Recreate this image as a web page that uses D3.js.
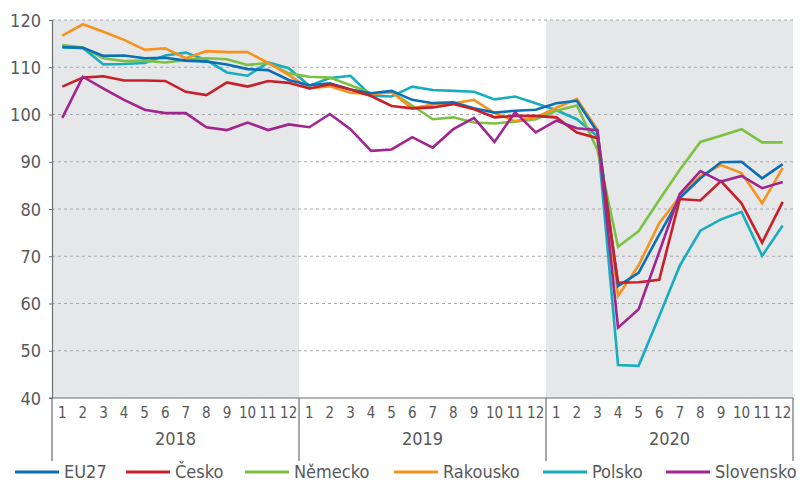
<!DOCTYPE html>
<html>
<head>
<meta charset="utf-8">
<script src="https://cdn.jsdelivr.net/npm/d3@7"></script>
<style>
  body { margin: 0; background: #fff; }
  svg text { font-family: "Liberation Sans Narrow", "DejaVu Sans Condensed", "Roboto", sans-serif; fill: #58595b; }
</style>
</head>
<body>
<svg id="chart" width="800" height="483"></svg>
<script>
const years = ["2018", "2019", "2020"];
const monthLabels = ["1","2","3","4","5","6","7","8","9","10","11","12"];
const yTicks = [40, 50, 60, 70, 80, 90, 100, 110, 120];

const seriesNames = ["EU27", "Česko", "Německo", "Rakousko", "Polsko", "Slovensko"];
const seriesColors = ["#0a6fb7", "#c8202b", "#7cc142", "#f6921e", "#17adbf", "#a2248f"];

const eu27 = [114.3,114.1,112.4,112.5,111.9,112.0,111.4,111.2,110.6,109.6,109.4,107.3,
              106.2,106.6,105.3,104.5,105.0,103.1,102.4,102.6,101.3,100.4,100.8,101.0,
              102.4,102.9,96.3,63.7,66.5,74.6,82.3,86.5,89.9,90.0,86.5,89.5];
const cesko = [105.9,107.8,108.1,107.2,107.2,107.1,104.8,104.1,106.8,105.9,107.1,106.7,
               105.5,106.4,105.3,103.9,101.8,101.3,101.5,102.2,101.1,99.4,99.7,99.7,
               99.4,96.2,95.0,64.4,64.5,65.0,82.1,81.8,85.9,81.2,72.9,81.5];
const nemecko = [114.7,114.2,111.9,111.3,111.4,111.0,111.5,111.9,111.7,110.5,110.9,108.7,
                 108.0,107.8,106.2,104.5,104.7,101.9,99.0,99.4,98.3,98.1,98.5,99.0,
                 100.8,101.9,92.5,72.0,75.3,81.9,88.3,94.2,95.5,96.9,94.1,94.1];
const rakousko = [116.7,119.1,117.5,115.8,113.7,114.0,111.9,113.4,113.2,113.2,110.9,108.4,
                  105.5,106.0,104.6,104.3,104.7,101.3,102.1,102.4,103.1,100.3,98.6,99.4,
                  101.4,103.3,96.8,61.6,68.1,77.0,82.6,87.0,89.3,87.6,81.2,88.7];
const polsko = [114.2,114.1,110.6,110.7,110.9,112.5,113.1,111.5,108.9,108.2,111.0,109.8,
                106.1,107.7,108.2,104.0,103.8,105.9,105.2,105.0,104.8,103.2,103.8,102.4,
                100.9,99.0,95.4,47.0,46.8,57.3,68.0,75.4,77.8,79.4,70.1,76.5];
const slovensko = [99.3,108.0,105.5,103.1,101.0,100.3,100.3,97.3,96.7,98.3,96.7,97.9,
                   97.3,100.1,96.9,92.3,92.6,95.2,93.0,96.9,99.3,94.2,100.5,96.2,
                   98.7,97.1,96.7,54.9,58.8,70.9,83.2,88.0,85.8,87.0,84.4,85.7];

const seriesValues = [eu27, cesko, nemecko, rakousko, polsko, slovensko];

const svg = d3.select("#chart");
const mLeft = 52, mRight = 793, mTop = 20, mBottom = 398;

const periods = [];
years.forEach(yr => monthLabels.forEach(m => periods.push(yr + "-" + m)));

const x = d3.scaleBand().domain(periods).range([mLeft, mRight]).paddingInner(0).paddingOuter(0);
const y = d3.scaleLinear().domain([40, 120]).range([mBottom, mTop]);

// year bands
const yearX = d3.scaleBand().domain(years).range([mLeft, mRight]);
svg.append("g").selectAll("rect").data(years.filter((d, i) => i % 2 === 0)).join("rect")
  .attr("x", d => yearX(d)).attr("y", mTop)
  .attr("width", yearX.bandwidth()).attr("height", mBottom - mTop)
  .attr("fill", "#e6e7e8");

// gridlines
svg.append("g").selectAll("line").data(yTicks.filter(t => t > 40)).join("line")
  .attr("x1", mLeft).attr("x2", mRight)
  .attr("y1", d => y(d)).attr("y2", d => y(d))
  .attr("stroke", "#a7a9ac").attr("stroke-width", 1).attr("stroke-dasharray", "3,3");

// y axis
const yAxis = d3.axisLeft(y).tickValues(yTicks).tickSize(3).tickPadding(8);
const gy = svg.append("g").attr("transform", `translate(${mLeft},0)`).call(yAxis);
gy.select(".domain").attr("stroke", "#6d6e71").attr("stroke-width", 1.2);
gy.selectAll(".tick line").attr("stroke", "#6d6e71");
gy.selectAll(".tick text").style("font-size", "18px").attr("dy", "0.34em");

// x axis line
svg.append("line").attr("x1", mLeft - 3).attr("x2", mRight).attr("y1", mBottom).attr("y2", mBottom)
  .attr("stroke", "#6d6e71").attr("stroke-width", 1.2);

// month labels
svg.append("g").selectAll("text").data(periods).join("text")
  .attr("x", d => x(d) + x.bandwidth() / 2)
  .attr("y", 418)
  .attr("text-anchor", "middle")
  .style("font-size", "15px")
  .text(d => d.split("-")[1]);

// year dividers
const dividers = years.map(yv => yearX(yv)).concat([mRight]);
svg.append("g").selectAll("line").data(dividers).join("line")
  .attr("x1", d => d).attr("x2", d => d)
  .attr("y1", mBottom).attr("y2", 461)
  .attr("stroke", "#6d6e71").attr("stroke-width", 1.2);

// year labels
svg.append("g").selectAll("text").data(years).join("text")
  .attr("x", d => yearX(d) + yearX.bandwidth() / 2)
  .attr("y", 445)
  .attr("text-anchor", "middle")
  .style("font-size", "18px")
  .text(d => d);

// lines
const line = d3.line()
  .x((d, i) => x(periods[i]) + x.bandwidth() / 2)
  .y(d => y(d));

const drawOrder = [4, 2, 3, 0, 1, 5];
svg.append("g").selectAll("path").data(drawOrder).join("path")
  .attr("d", i => line(seriesValues[i]))
  .attr("fill", "none")
  .attr("stroke", i => seriesColors[i])
  .attr("stroke-width", 2.6)
  .attr("stroke-linejoin", "miter");

// legend
const legendX = [15, 126, 245, 394, 543, 666];
const lg = svg.append("g").selectAll("g").data(seriesNames).join("g")
  .attr("transform", (d, i) => `translate(${legendX[i]},472)`);
lg.append("line").attr("x1", 0).attr("x2", 44).attr("y1", 0).attr("y2", 0)
  .attr("stroke", (d, i) => seriesColors[i]).attr("stroke-width", 3);
lg.append("text").attr("x", 49).attr("y", 0).attr("dy", "0.35em")
  .style("font-size", "18px").text(d => d);
</script>
</body>
</html>
